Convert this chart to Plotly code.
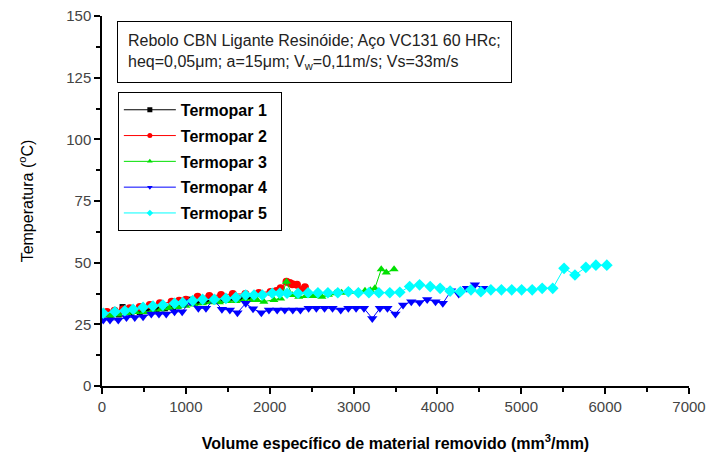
import plotly.graph_objects as go

# ---- data ----
x1 = [0, 100, 200, 245, 350, 450, 550, 650, 750, 850, 950, 1050, 1150, 1250, 1350, 1450, 1550, 1650, 1750]
y1 = [28, 28.5, 29, 32, 29.5, 30, 30.5, 31, 31.5, 32, 33, 35, 34, 34.5, 35, 35, 35.5, 35.5, 36]

x2 = [0, 60, 150, 250, 330, 450, 570, 690, 830, 920, 1000, 1140, 1280, 1420, 1560, 1710, 1870,
      2010, 2080, 2130, 2200, 2240, 2270, 2325, 2385, 2420]
y2 = [29, 30, 30.5, 31, 31.5, 32, 32.8, 33.5, 34.2, 34.6, 35, 36.2, 36.5, 36.9, 37.3, 37.3, 37.7,
      38.1, 38.5, 39.6, 42.3, 41.8, 41.3, 41, 38.9, 40]

x3 = [0, 100, 200, 300, 400, 500, 600, 700, 800, 900, 1000, 1100, 1200, 1300, 1400, 1500, 1600,
      1700, 1790, 1850, 1930, 2050, 2130, 2200, 2267, 2346, 2430, 2520, 2622, 2700, 2781, 2857,
      2958, 3057, 3136, 3200, 3254, 3330, 3390, 3483]
y3 = [28, 28.5, 29, 29.5, 30, 30, 30.5, 31, 31.5, 32, 32.5, 33, 33.5, 34, 34, 34.5, 34.5,
      35, 34.9, 34.9, 34.2, 34.9, 35.5, 42.3, 36.9, 36.2, 36.5, 36.5, 36.2, 37, 37.6, 37.8,
      38.2, 38.2, 38.6, 38.8, 39.6, 47.3, 46, 47.3]

x4 = [15, 95, 194, 292, 391, 490, 588, 679, 766, 865, 956, 1051, 1149, 1240, 1331, 1430, 1525,
      1615, 1714, 1801, 1900, 1991, 2089, 2180, 2275, 2366, 2464, 2556, 2654, 2749, 2847, 2938,
      3030, 3124, 3223, 3314, 3404, 3499, 3590, 3688, 3787, 3878, 3977, 4064, 4163, 4254, 4352,
      4447, 4546]
y4 = [26.8, 26.8, 26.8, 27.8, 27.8, 28.1, 29.2, 29.2, 29.2, 30.1, 30.1, 34.2, 31.5, 31.5, 34.9,
      31.1, 30.8, 29.7, 33.5, 31.3, 29.7, 30.8, 30.8, 30.8, 30.8, 30.8, 31.5, 31.5, 31.5, 31.5,
      30.8, 31.5, 31.5, 31.5, 27.4, 31.5, 31.5, 29.2, 32.8, 34.2, 33.9, 35.1, 34.2, 33.5, 38.6,
      37.3, 39.6, 41, 39.6]

x5 = [15, 154, 272, 371, 490, 608, 726, 865, 963, 1082, 1200, 1339, 1477, 1596, 1714, 1813, 1912,
      2030, 2120, 2207, 2338, 2457, 2575, 2694, 2812, 2938, 3057, 3183, 3302, 3432, 3551, 3669,
      3787, 3914, 4032, 4151, 4273, 4400, 4518, 4637, 4763, 4886, 5004, 5130, 5249, 5375, 5510,
      5640, 5770, 5890, 6020]
y5 = [29.5, 30.1, 30.5, 31.1, 31.9, 32.4, 32.8, 33.5, 33.8, 34.6, 35.1, 35.1, 35.5, 35.9, 36.9,
      36.9, 36.9, 37.6, 37.6, 37.6, 37.6, 37.8, 37.8, 37.8, 37.8, 38.2, 37.8, 37.8, 37.8, 37.8,
      38, 40.3, 41, 40.3, 39.6, 38.5, 38.2, 39, 38.2, 39, 39, 39, 39, 39, 39.6, 39.6, 47.7, 45,
      48.1, 49, 49]

names = ["Termopar 1", "Termopar 2", "Termopar 3", "Termopar 4", "Termopar 5"]
colors = ["#000000", "#ff0000", "#00e000", "#0000ff", "#00ffff"]
symbols = ["square", "circle", "triangle-up", "triangle-down", "diamond"]
sizes = [6, 8, 8, 9, 9]
xs = [x1, x2, x3, x4, x5]
ys = [y1, y2, y3, y4, y5]

x_ticks = [0, 1000, 2000, 3000, 4000, 5000, 6000, 7000]
y_ticks = [0, 25, 50, 75, 100, 125, 150]

FONT = "Liberation Sans, Arial, sans-serif"
PAD = "\u00a0\u00a0"  # right padding inside the legend box

fig = go.Figure()
for i in range(5):
    fig.add_trace(go.Scatter(
        x=xs[i], y=ys[i], name=names[i], mode="lines+markers",
        line=dict(color=colors[i], width=1),
        marker=dict(symbol=symbols[i], size=sizes[i], color=colors[i], line=dict(width=0)),
        showlegend=False,
    ))
# legend-only entries with small markers, as in the reference legend
for i in range(5):
    fig.add_trace(go.Scatter(
        x=[None], y=[None], name=names[i] + PAD, mode="lines+markers",
        line=dict(color=colors[i], width=1),
        marker=dict(symbol=symbols[i], size=5, color=colors[i], line=dict(width=0)),
        legendgroup=names[i], showlegend=True,
    ))

axis_common = dict(
    showgrid=False, zeroline=False, showline=True, linecolor="#000000", linewidth=1.5,
    ticks="outside", ticklen=6, tickwidth=1.5, tickcolor="#000000",
    tickfont=dict(family=FONT, size=15, color="#444444"),
    automargin=False, ticklabeloverflow="allow",
)

fig.update_layout(
    width=707, height=458,
    margin=dict(l=102, r=18, t=16, b=72),
    paper_bgcolor="white", plot_bgcolor="white",
    font=dict(family=FONT, color="#000000"),
    showlegend=True,
    legend=dict(
        x=0.027, y=0.795, xanchor="left", yanchor="top",
        bordercolor="#000000", borderwidth=1, bgcolor="white",
        font=dict(family=FONT, size=16, color="#000000", weight="bold"),
        tracegroupgap=2, itemwidth=52,
    ),
    xaxis=dict(
        range=[0, 7000], tickvals=x_ticks, ticktext=[str(v) for v in x_ticks],
        minor=dict(ticks="outside", dtick=500, ticklen=4, tickwidth=1.5, tickcolor="#000000"),
        title=dict(text="Volume específico de material removido (mm<sup>3</sup>/mm)",
                   font=dict(family=FONT, size=16, color="#000000", weight="bold"), standoff=24),
        **axis_common,
    ),
    yaxis=dict(
        range=[0, 150], tickvals=y_ticks, ticktext=[str(v) for v in y_ticks],
        minor=dict(ticks="outside", dtick=12.5, ticklen=4, tickwidth=1.5, tickcolor="#000000"),
        title=dict(text="Temperatura (<sup>o</sup>C)",
                   font=dict(family=FONT, size=16, color="#000000"), standoff=29),
        **axis_common,
    ),
)

fig.add_annotation(
    xref="paper", yref="paper", x=0.026, y=0.986, xanchor="left", yanchor="top",
    text="Rebolo CBN Ligante Resinóide; Aço VC131 60 HRc;<br>"
         "heq=0,05μm; a=15μm; V<sub>w</sub>=0,11m/s; Vs=33m/s",
    showarrow=False, align="left",
    font=dict(family=FONT, size=16, color="#222222"),
    bordercolor="#000000", borderwidth=1, borderpad=10, bgcolor="white",
)

fig.write_html(
    "out.html",
    config={"displayModeBar": False},
    post_script="document.body.style.margin='0';document.body.style.overflow='hidden';",
)
